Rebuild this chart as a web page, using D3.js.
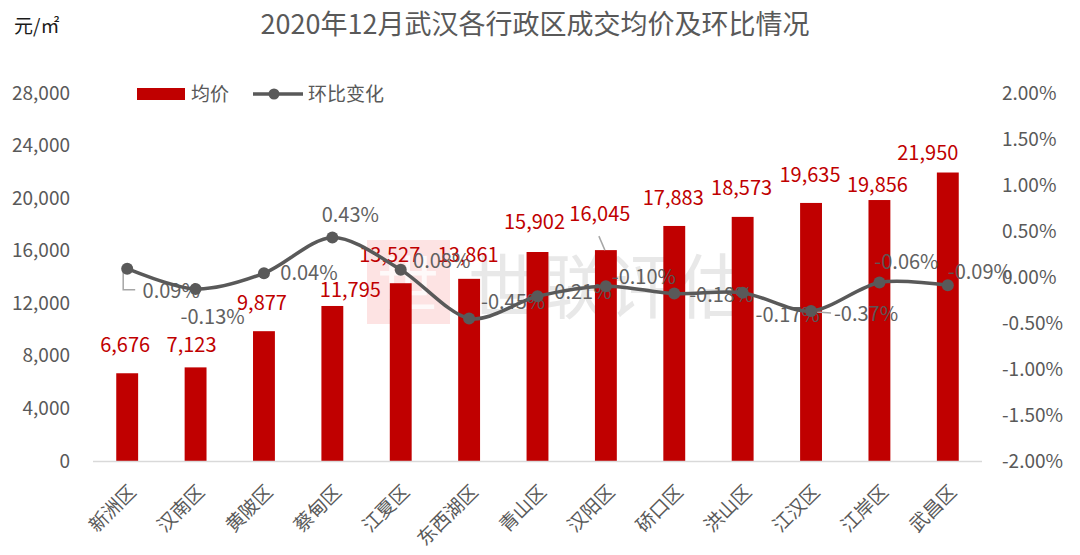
<!DOCTYPE html>
<html>
<head>
<meta charset="utf-8">
<script src="https://cdn.jsdelivr.net/npm/d3@7/dist/d3.min.js"></script>
<style>
  html, body { margin: 0; padding: 0; background: #fff; }
  svg { display: block; font-family: "Noto Sans CJK SC", "Noto Sans", sans-serif; }
</style>
</head>
<body>
<svg id="chart" width="1080" height="555"></svg>
<script>
// ---- data ----
const districts = ["新洲区","汉南区","黄陂区","蔡甸区","江夏区","东西湖区","青山区","汉阳区","硚口区","洪山区","江汉区","江岸区","武昌区"];
const avgPrice  = [6676, 7123, 9877, 11795, 13527, 13861, 15902, 16045, 17883, 18573, 19635, 19856, 21950];
const momChange = [0.0009, -0.0013, 0.0004, 0.0043, 0.0008, -0.0045, -0.0021, -0.0010, -0.0018, -0.0017, -0.0037, -0.0006, -0.0009];
const leftTicks  = [0, 4000, 8000, 12000, 16000, 20000, 24000, 28000];
const rightTicks = [-0.02, -0.015, -0.01, -0.005, 0, 0.005, 0.01, 0.015, 0.02];

// label nudges (layout only)
const barLabelNudge = [[-2,-28],[-4,-22],[-2,-28],[18,-16],[-11,-28],[-1,-24],[-3,-30],[-6,-36],[-1,-28],[-1,-29],[-1,-28],[-2,-15],[-20,-20]];
const pctLabelNudge = [[44,22],[17,28],[45,0],[18,-22],[41,-9],[44,-16],[42,-4],[38,-9],[47,1],[45,22],[55,3],[27,-21],[32,-13]];

const locale = d3.formatLocale({decimal: ".", thousands: ",", grouping: [3], currency: ["", ""], minus: "-"});
const fmtNum = locale.format(",");
const fmtPct = locale.format(".2%");

const svg = d3.select("#chart");
const plotL = 93, plotR = 982, plotT = 93, plotB = 461;

const x = d3.scaleBand().domain(districts).range([plotL, plotR]).paddingInner(0.68).paddingOuter(0.34);
const yL = d3.scaleLinear().domain([0, 28000]).range([plotB, plotT]);
const yR = d3.scaleLinear().domain([-0.02, 0.02]).range([plotB, plotT]);
const cx = d => x(d) + x.bandwidth() / 2;

// title
svg.append("text").attr("x", 535).attr("y", 34).attr("text-anchor", "middle")
  .attr("font-size", 27).attr("fill", "#595959").text("2020年12月武汉各行政区成交均价及环比情况");
svg.append("text").attr("x", 14).attr("y", 33).attr("font-size", 19).attr("fill", "#1a1a1a").text("元/㎡");

// watermark
const wm = svg.append("g");
wm.append("rect").attr("x", 367).attr("y", 240).attr("width", 83).attr("height", 84).attr("fill", "#fde3e3");
wm.append("text").attr("x", 408).attr("y", 308).attr("text-anchor", "middle").attr("font-size", 62)
  .attr("fill", "#fff").attr("opacity", 0.8).text("世");
wm.append("text").attr("x", 468).attr("y", 313).attr("font-size", 70).attr("fill", "#e8e8e8").text("世联评估");

// left axis
const axL = d3.axisLeft(yL).tickValues(leftTicks).tickSize(0).tickPadding(0).tickFormat(fmtNum);
const gL = svg.append("g").attr("transform", `translate(70,0)`).call(axL);
gL.select(".domain").remove();
gL.selectAll("text").attr("font-size", 19).attr("fill", "#595959").attr("font-family", "Noto Sans CJK SC");

// right axis
const axR = d3.axisRight(yR).tickValues(rightTicks).tickSize(0).tickPadding(0).tickFormat(fmtPct);
const gR = svg.append("g").attr("transform", `translate(1002,0)`).call(axR);
gR.select(".domain").remove();
gR.selectAll("text").attr("font-size", 19).attr("fill", "#595959").attr("font-family", "Noto Sans CJK SC");

// bars
svg.append("g").selectAll("rect").data(districts).join("rect")
  .attr("x", d => x(d)).attr("width", x.bandwidth())
  .attr("y", (d, i) => yL(avgPrice[i])).attr("height", (d, i) => plotB - yL(avgPrice[i]))
  .attr("fill", "#c00000");

// baseline
svg.append("line").attr("x1", plotL).attr("x2", plotR).attr("y1", plotB + 0.5).attr("y2", plotB + 0.5)
  .attr("stroke", "#d9d9d9").attr("stroke-width", 1.5);

// x labels
const gX = svg.append("g").attr("transform", `translate(0,${plotB})`)
  .call(d3.axisBottom(x).tickSize(0).tickPadding(0));
gX.select(".domain").remove();
gX.selectAll(".tick text")
  .attr("font-size", 19).attr("fill", "#595959").attr("font-family", "Noto Sans CJK SC")
  .attr("text-anchor", "end").attr("dy", 0)
  .attr("transform", "translate(10,32) rotate(-45)");

// bar value labels
svg.append("g").selectAll("text").data(districts).join("text")
  .attr("x", (d, i) => cx(d) + barLabelNudge[i][0])
  .attr("y", (d, i) => yL(avgPrice[i]) + barLabelNudge[i][1])
  .attr("dy", "0.35em").attr("text-anchor", "middle")
  .attr("font-size", 20).attr("fill", "#c00000")
  .text((d, i) => fmtNum(avgPrice[i]));

// leader lines
svg.append("path").attr("d", `M${cx(districts[0]) - 4},${yR(momChange[0]) + 2}V${yR(momChange[0]) + 21}H${cx(districts[0]) + 8}`)
  .attr("fill", "none").attr("stroke", "#a6a6a6").attr("stroke-width", 1.5);
svg.append("line").attr("x1", cx(districts[7]) - 7).attr("y1", yL(avgPrice[7]) - 14)
  .attr("x2", cx(districts[7]) - 1).attr("y2", yL(avgPrice[7]))
  .attr("stroke", "#a6a6a6").attr("stroke-width", 1.5);
svg.append("line").attr("x1", cx(districts[10]) + 6).attr("y1", yR(momChange[10]) + 1)
  .attr("x2", cx(districts[10]) + 20).attr("y2", yR(momChange[10]) + 2)
  .attr("stroke", "#a6a6a6").attr("stroke-width", 1.5);

// line
const line = d3.line().x((d, i) => cx(districts[i])).y(d => yR(d)).curve(d3.curveCardinal.tension(0.1));
svg.append("path").datum(momChange).attr("d", line)
  .attr("fill", "none").attr("stroke", "#595959").attr("stroke-width", 3.5);
svg.append("g").selectAll("circle").data(momChange).join("circle")
  .attr("cx", (d, i) => cx(districts[i])).attr("cy", d => yR(d)).attr("r", 6).attr("fill", "#595959");

// pct labels
svg.append("g").selectAll("text").data(momChange).join("text")
  .attr("x", (d, i) => cx(districts[i]) + pctLabelNudge[i][0])
  .attr("y", (d, i) => yR(d) + pctLabelNudge[i][1])
  .attr("dy", "0.35em").attr("text-anchor", "middle")
  .attr("font-size", 20).attr("fill", "#595959").attr("opacity", 0.95)
  .text(d => fmtPct(d));

// legend
const lg = svg.append("g");
lg.append("rect").attr("x", 137).attr("y", 88).attr("width", 48).attr("height", 12).attr("fill", "#c00000");
lg.append("text").attr("x", 191).attr("y", 94).attr("dy", "0.35em").attr("font-size", 19).attr("fill", "#595959").text("均价");
lg.append("line").attr("x1", 253).attr("x2", 303).attr("y1", 94).attr("y2", 94).attr("stroke", "#595959").attr("stroke-width", 3.5);
lg.append("circle").attr("cx", 274).attr("cy", 94).attr("r", 5.5).attr("fill", "#595959");
lg.append("text").attr("x", 308).attr("y", 94).attr("dy", "0.35em").attr("font-size", 19).attr("fill", "#595959").text("环比变化");
</script>
</body>
</html>
